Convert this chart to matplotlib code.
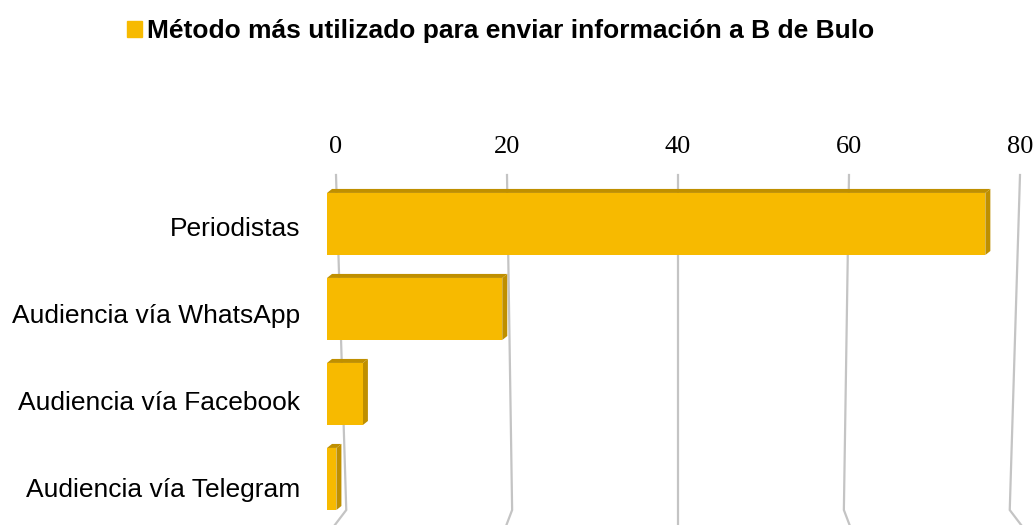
import matplotlib.pyplot as plt
from matplotlib.patches import Polygon, Patch
from matplotlib.transforms import offset_copy, ScaledTranslation

categorias = ['Periodistas', 'Audiencia vía WhatsApp', 'Audiencia vía Facebook', 'Audiencia vía Telegram']
valores = [77.0, 20.5, 4.2, 1.1]
ticks = [0, 20, 40, 60, 80]
titulo = 'Método más utilizado para enviar información a B de Bulo'

frente = '#F7BA00'
sombra = '#BF8F00'
gris = '#C4C4C4'

fig = plt.figure(figsize=(10.35, 5.25), dpi=100)
ax = fig.add_axes([336 / 1035, 15 / 525, 684 / 1035, 335 / 525])
ax.set_xlim(0, 80)
ax.set_ylim(3.365, -0.576)

# líneas de la cuadrícula con un poco de perspectiva
for t in ticks:
    xb = 40 + (t - 40) * 0.97
    xf = 40 + (t - 40) * 1.005
    ax.plot([t, xb, xf], [-0.576, 3.365, 3.55], color=gris, lw=1.6,
            clip_on=False, zorder=1, solid_joinstyle='miter')

# barras en 3D: cara frontal adelantada y caras de profundidad
tr = offset_copy(ax.transData, fig=fig, x=-9, y=0, units='dots')
h = 0.73
dx = 5 / 8.55
dy = 4 / 85
for i, v in enumerate(valores):
    y0 = i - h / 2
    y1 = i + h / 2
    arriba = Polygon([(0, y0), (v, y0), (v + dx, y0 - dy), (dx, y0 - dy)],
                     closed=True, facecolor=sombra, edgecolor='none', transform=tr,
                     zorder=2, clip_on=False)
    lado = Polygon([(v, y0), (v + dx, y0 - dy), (v + dx, y1 - dy), (v, y1)],
                   closed=True, facecolor=sombra, edgecolor='none', transform=tr,
                   zorder=2, clip_on=False)
    ax.add_patch(arriba)
    ax.add_patch(lado)
barras = ax.barh(range(len(valores)), valores, height=h, color=frente, transform=tr,
                 zorder=3, clip_on=False)

ax.xaxis.tick_top()
ax.set_xticks(ticks)
ax.set_xticklabels([str(t) for t in ticks], fontfamily='Liberation Serif', fontsize=19)
ax.set_yticks(range(len(categorias)))
ax.set_yticklabels(categorias, fontfamily='Liberation Sans', fontsize=19)
ax.tick_params(axis='x', length=0, pad=12)
ax.tick_params(axis='y', length=0, pad=26)
for i, lab in enumerate(ax.get_yticklabels()):
    lab.set_transform(lab.get_transform() + ScaledTranslation(0, -(3 + 2 * i) / 100, fig.dpi_scale_trans))
for s in ax.spines.values():
    s.set_visible(False)

fig.legend(handles=[Patch(color=frente)], labels=[titulo], loc='center',
           bbox_to_anchor=(501 / 1035, 1 - 31 / 525), frameon=False,
           prop={'family': 'Liberation Sans', 'weight': 'bold', 'size': 19},
           handlelength=0.55, handleheight=0.55, handletextpad=0.2)

fig.savefig('out.png', dpi=100)
